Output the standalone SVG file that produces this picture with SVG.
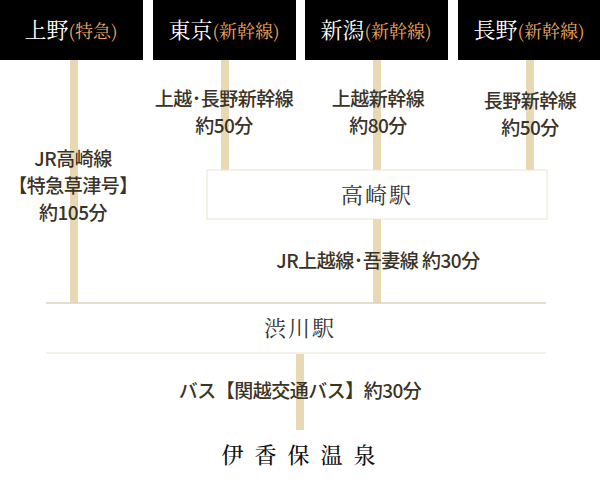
<svg xmlns="http://www.w3.org/2000/svg" width="600" height="480" viewBox="0 0 600 480">
<style>
.hd{fill:#000}
.ht{font-family:"Noto Serif CJK JP","Noto Sans CJK JP",serif;font-size:22px;fill:#fff;text-anchor:middle}
.or{fill:#f0a860;font-size:18px}
.ln{fill:#e8d9b5}
.lb{font-family:"Noto Sans CJK JP",sans-serif;font-size:19px;font-weight:500;fill:#3a3328;text-anchor:middle;letter-spacing:-0.5px}
.st{font-family:"Noto Serif CJK JP","Noto Sans CJK JP",serif;font-size:22px;fill:#333;text-anchor:middle;letter-spacing:2px}
</style>
<rect width="600" height="480" fill="#fff"/>
<g id="connectors">
<rect class="ln" x="70" y="60" width="8" height="243"/>
<rect class="ln" x="221" y="60" width="8" height="110"/>
<rect class="ln" x="373" y="60" width="8" height="243"/>
<rect class="ln" x="526" y="60" width="8" height="110"/>
<rect class="ln" x="296" y="354" width="8" height="76"/>
<line x1="46" y1="303" x2="546" y2="303" stroke="#ddd2ba" stroke-width="1.5"/>
<line x1="46" y1="353" x2="546" y2="353" stroke="#f0ece2" stroke-width="1.5"/>
</g>
<g id="ueno"><rect class="hd" x="0" y="0" width="143" height="60"/><text class="ht" x="71" y="38">上野<tspan class="or">(特急)</tspan></text></g>
<g id="tokyo"><rect class="hd" x="153" y="0" width="143" height="60"/><text class="ht" x="224" y="38">東京<tspan class="or">(新幹線)</tspan></text></g>
<g id="niigata"><rect class="hd" x="305" y="0" width="143" height="60"/><text class="ht" x="376" y="38">新潟<tspan class="or">(新幹線)</tspan></text></g>
<g id="nagano"><rect class="hd" x="458" y="0" width="142" height="60"/><text class="ht" x="529" y="38">長野<tspan class="or">(新幹線)</tspan></text></g>
<g id="labels">
<text class="lb" x="224" y="106">上越･長野新幹線</text><text class="lb" x="224" y="133">約50分</text>
<text class="lb" x="378" y="106">上越新幹線</text><text class="lb" x="378" y="133">約80分</text>
<text class="lb" x="530" y="108">長野新幹線</text><text class="lb" x="530" y="135">約50分</text>
<text class="lb" x="73" y="166">JR高崎線</text><text class="lb" x="73" y="193">【特急草津号】</text><text class="lb" x="73" y="220">約105分</text>
<text class="lb" x="378" y="268">JR上越線･吾妻線 約30分</text>
<text class="lb" x="300" y="398">バス【関越交通バス】約30分</text>
</g>
<g id="takasaki"><rect x="207" y="170" width="340" height="49" fill="#fff" stroke="#ece4d0" stroke-width="1"/><text class="st" x="377" y="203">高崎駅</text></g>
<g id="shibukawa"><text class="st" x="300" y="336">渋川駅</text></g>
<g id="ikaho"><text x="304" y="463" font-family="Noto Serif CJK JP,Noto Sans CJK JP,serif" font-size="22" font-weight="500" fill="#111" text-anchor="middle" letter-spacing="11">伊香保温泉</text></g>
</svg>
